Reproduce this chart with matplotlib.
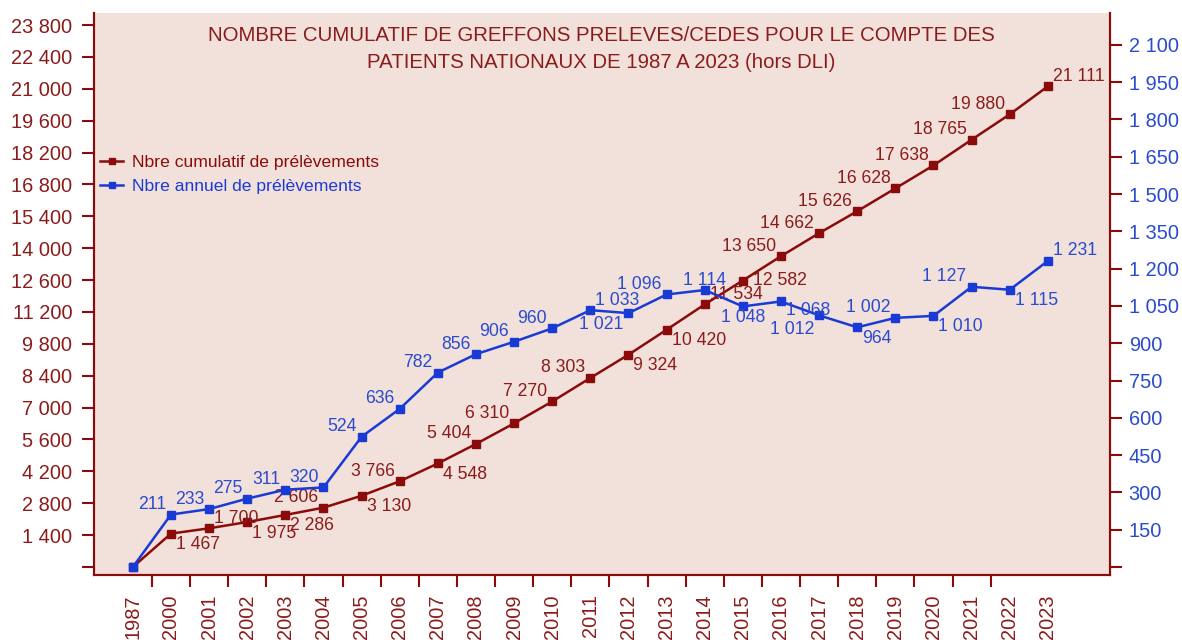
import matplotlib
matplotlib.use("Agg")
import matplotlib.pyplot as plt
import numpy as np

plt.rcParams['font.family'] = ['Liberation Sans', 'DejaVu Sans']

# données
years = ['1987', '2000', '2001', '2002', '2003', '2004', '2005', '2006', '2007',
         '2008', '2009', '2010', '2011', '2012', '2013', '2014', '2015', '2016',
         '2017', '2018', '2019', '2020', '2021', '2022', '2023']
cumul = [0, 1467, 1700, 1975, 2286, 2606, 3130, 3766, 4548, 5404, 6310, 7270,
         8303, 9324, 10420, 11534, 12582, 13650, 14662, 15626, 16628, 17638,
         18765, 19880, 21111]
annuel = [0, 211, 233, 275, 311, 320, 524, 636, 782, 856, 906, 960, 1033, 1021,
          1096, 1114, 1048, 1068, 1012, 964, 1002, 1010, 1127, 1115, 1231]

# position des étiquettes
pos_cumul = [None, 'br', 'ar', 'br', 'br', 'al', 'br', 'al', 'br', 'al', 'al', 'al',
             'al', 'br', 'br', 'ar', 'r', 'al', 'al', 'al', 'al', 'al', 'al', 'al', 'ar']
pos_annuel = [None, 'al', 'al', 'al', 'al', 'al', 'al', 'al', 'al', 'al', 'al', 'al',
              'ar', 'bl', 'al', 'ac', 'bc', 'br_haut', 'bl_bas', 'br', 'al', 'br', 'al', 'br', 'ar']

ROUGE = '#8b0a0a'
ROUGE_TXT = '#8b1c1c'
BLEU = '#1a3ad6'
BLEU_TXT = '#2a4bd0'
FOND = '#f2e1da'

offsets = {'al': (-5, 10, 'right'), 'ar': (5, 10, 'left'),
           'bl': (-5, -11, 'right'), 'br': (5, -11, 'left'),
           'br_haut': (5, -9, 'left'), 'bl_bas': (-5, -14, 'right'),
           'ac': (0, 10, 'center'), 'bc': (0, -11, 'center'),
           'r': (10, 0, 'left')}


def fmt(v):
    return f"{v:,}".replace(',', ' ')


fig = plt.figure(figsize=(11.82, 6.4), dpi=100)
ax = fig.add_axes([0.0795, 0.1016, 0.8596, 0.8781])
ax.set_facecolor(FOND)
ax2 = ax.twinx()

x = np.arange(len(years))
l1, = ax.plot(x, cumul, color=ROUGE, lw=1.8, marker='s', ms=6,
              label='Nbre cumulatif de prélèvements')
l2, = ax2.plot(x, annuel, color=BLEU, lw=1.8, marker='s', ms=6,
               label='Nbre annuel de prélèvements')

for xi, v, p in zip(x, cumul, pos_cumul):
    if p is None:
        continue
    dx, dy, ha = offsets[p]
    ax.annotate(fmt(v), (xi, v), xytext=(dx, dy), textcoords='offset pixels',
                ha=ha, va='center', fontsize=12.7, color=ROUGE_TXT)
for xi, v, p in zip(x, annuel, pos_annuel):
    if p is None:
        continue
    dx, dy, ha = offsets[p]
    ax2.annotate(fmt(v), (xi, v), xytext=(dx, dy), textcoords='offset pixels',
                 ha=ha, va='center', fontsize=12.7, color=BLEU_TXT)

ax.set_xlim(-1.02, 25.63)
ax.set_ylim(-350, 24330)
ax2.set_ylim(-32, 2228)

# axe gauche
lt = np.arange(0, 23801, 1400)
ax.set_yticks(lt)
ax.set_yticklabels([''] + [fmt(v) for v in lt[1:]])
ax.tick_params(axis='y', colors=ROUGE, labelcolor=ROUGE_TXT, labelsize=14.4,
               length=8.5, width=1.5, pad=7)
# axe droit
rt = np.arange(0, 2101, 150)
ax2.set_yticks(rt)
ax2.set_yticklabels([''] + [fmt(v) for v in rt[1:]])
ax2.tick_params(axis='y', colors=ROUGE, labelcolor=BLEU_TXT, labelsize=14.4,
                length=8.5, width=1.5, pad=5)

# axe des x : étiquettes au centre, traits entre les catégories
ax.set_xticks(x)
ax.set_xticklabels(years, rotation=90)
ax.set_xticks(np.arange(0.5, 23, 1), minor=True)
ax.tick_params(axis='x', which='major', length=0, pad=14, labelsize=14.4,
               labelcolor=ROUGE_TXT)
ax.tick_params(axis='x', which='minor', length=8.5, width=1.5, color=ROUGE)

for a in (ax, ax2):
    a.spines['top'].set_visible(False)
    for s in ('left', 'right', 'bottom'):
        a.spines[s].set_color(ROUGE)
        a.spines[s].set_linewidth(1.5)

fig.text(0.509, 0.945, 'NOMBRE CUMULATIF DE GREFFONS PRELEVES/CEDES POUR LE COMPTE DES',
         ha='center', va='center', fontsize=14.7, color=ROUGE_TXT)
fig.text(0.509, 0.902, 'PATIENTS NATIONAUX DE 1987 A 2023 (hors DLI)',
         ha='center', va='center', fontsize=14.7, color=ROUGE_TXT)

ax.legend(handles=[l1, l2], loc='upper left', bbox_to_anchor=(0.085, 0.758),
          bbox_transform=fig.transFigure, frameon=False, fontsize=12.6,
          labelcolor='linecolor', handlelength=1.3, handletextpad=0.5,
          markerscale=0.8, borderpad=0, borderaxespad=0, labelspacing=0.5)

fig.savefig('out.png', dpi=100, facecolor='white')
